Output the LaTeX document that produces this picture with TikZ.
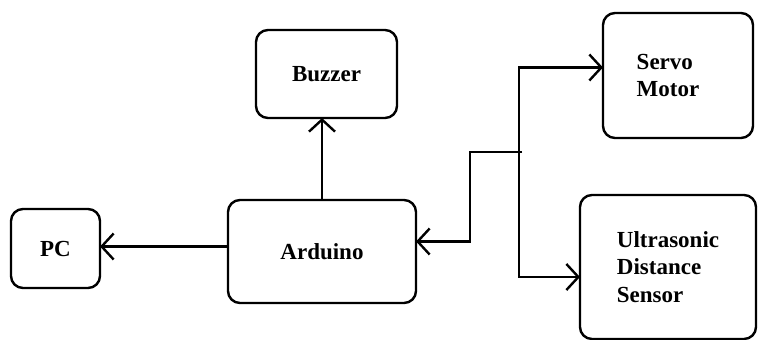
\documentclass[tikz,border=0pt]{standalone}
\usepackage{fontspec}
\setmainfont{Liberation Serif}
\usetikzlibrary{arrows.meta}

\begin{document}
\begin{tikzpicture}[x=1pt,y=-1pt,line width=2.4pt,
            >={Straight Barb[length=12pt,width=26pt]},
            block/.style={draw,rounded corners=12pt,outer sep=0pt,align=left,
              font=\fontsize{23}{27.5}\selectfont\bfseries}]
            \useasboundingbox (0,0) rectangle (758,340);

            \node[block,minimum width=89pt,minimum height=79pt] (pc) at (55.5,248.5) {PC};
            \node[block,minimum width=188pt,minimum height=103pt] (arduino) at (322,251.5) {Arduino};
            \node[block,minimum width=141pt,minimum height=88pt] (buzzer) at (326.5,74) {Buzzer};
            \node[block,minimum width=150pt,minimum height=125pt] (servo) at (678,75.5) {\hspace*{-20pt}Servo\\\hspace*{-20pt}Motor};
            \node[block,minimum width=176pt,minimum height=144pt] (sensor) at (668,267) {Ultrasonic\\Distance\\Sensor};

            \coordinate (bend) at (470,152);
            \coordinate (jn) at (519,152);

            \draw[->] ([yshift=5pt]arduino.west) -- ([yshift=5pt]arduino.west -| pc.east);
            \draw[->] (arduino.north) -- (arduino.north |- buzzer.south);
            \draw[->] ([xshift=3pt]jn) -- (bend) |- ([yshift=10pt]arduino.east);
            \draw[->] (jn) |- ([yshift=8pt]servo.west);
            \draw[->] (jn) |- ([yshift=-10pt]sensor.west);
            \end{tikzpicture}
\end{document}
